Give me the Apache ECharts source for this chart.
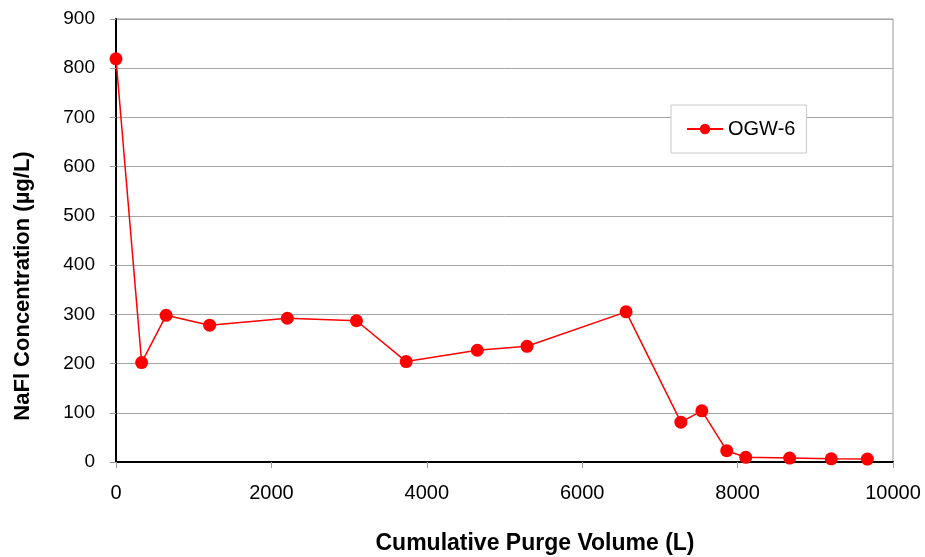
<!DOCTYPE html>
<html>
<head>
<meta charset="utf-8">
<script src="https://cdn.jsdelivr.net/npm/echarts@6/dist/echarts.min.js"></script>
<style>
  html, body { margin: 0; padding: 0; background: #fff; }
  #chart { width: 925px; height: 557px; }
</style>
</head>
<body>
<div id="chart"></div>
<script>
// Cumulative purge volume (L) and NaFl concentration (µg/L) for well OGW-6
const seriesName = 'OGW-6';
const purgeVolume = [0, 330, 645, 1205, 2205, 3095, 3735, 4650, 5290, 6565, 7270, 7540, 7860, 8105, 8670, 9205, 9670];
const concentration = [819, 202, 298, 278, 292, 287, 204, 227, 235, 305, 81, 104, 23, 9.5, 8, 6.5, 6];
const xTicks = { min: 0, max: 10000, interval: 2000 };
const yTicks = { min: 0, max: 900, interval: 100 };
const xTitle = 'Cumulative Purge Volume (L)';
const yTitle = 'NaFl Concentration (µg/L)';

const points = purgeVolume.map((v, i) => [v, concentration[i]]);

const font = 'Liberation Sans, Arial, sans-serif';
const chart = echarts.init(document.getElementById('chart'));
chart.setOption({
  animation: false,
  backgroundColor: '#fff',
  grid: {
    left: 116, right: 32, top: 19, bottom: 95,
    show: true, borderColor: '#999', borderWidth: 1
  },
  legend: {
    data: [seriesName],
    left: 671, top: 105,
    orient: 'vertical',
    backgroundColor: '#fff',
    borderColor: '#c8c8c8', borderWidth: 1,
    padding: [14, 11, 14, 15],
    itemWidth: 36, itemHeight: 13,
    textStyle: { fontFamily: font, fontSize: 20, color: '#000' }
  },
  // Axis titles placed as free text, offset from the plot centre
  graphic: [
    {
      type: 'text', x: 23, y: 286, rotation: Math.PI / 2,
      style: {
        text: yTitle, fontFamily: font, fontSize: 22, fontWeight: 'bold',
        fill: '#000', align: 'center', verticalAlign: 'middle'
      }
    },
    {
      type: 'text', x: 535, y: 544,
      style: {
        text: xTitle, fontFamily: font, fontSize: 23, fontWeight: 'bold',
        fill: '#000', align: 'center', verticalAlign: 'middle'
      }
    }
  ],
  xAxis: {
    type: 'value',
    min: xTicks.min, max: xTicks.max, interval: xTicks.interval,
    axisLine: { show: true, lineStyle: { color: '#000', width: 2 } },
    axisTick: { show: true, inside: false, length: 6, lineStyle: { color: '#999' } },
    axisLabel: {
      margin: 21, fontFamily: font, fontSize: 20, color: '#000',
      formatter: (v) => String(v)
    },
    splitLine: { show: false }
  },
  yAxis: {
    type: 'value',
    min: yTicks.min, max: yTicks.max, interval: yTicks.interval,
    axisLine: { show: true, lineStyle: { color: '#000', width: 2 } },
    axisTick: { show: true, inside: false, length: 6, lineStyle: { color: '#999' } },
    axisLabel: { margin: 21, fontFamily: font, fontSize: 19, color: '#000' },
    splitLine: { show: true, lineStyle: { color: '#a6a6a6', width: 1 } }
  },
  series: [{
    name: seriesName,
    type: 'line',
    data: points,
    symbol: 'circle',
    symbolSize: 13,
    itemStyle: { color: '#ff0000' },
    lineStyle: { color: '#ff0000', width: 1.5 }
  }]
});
</script>
</body>
</html>
